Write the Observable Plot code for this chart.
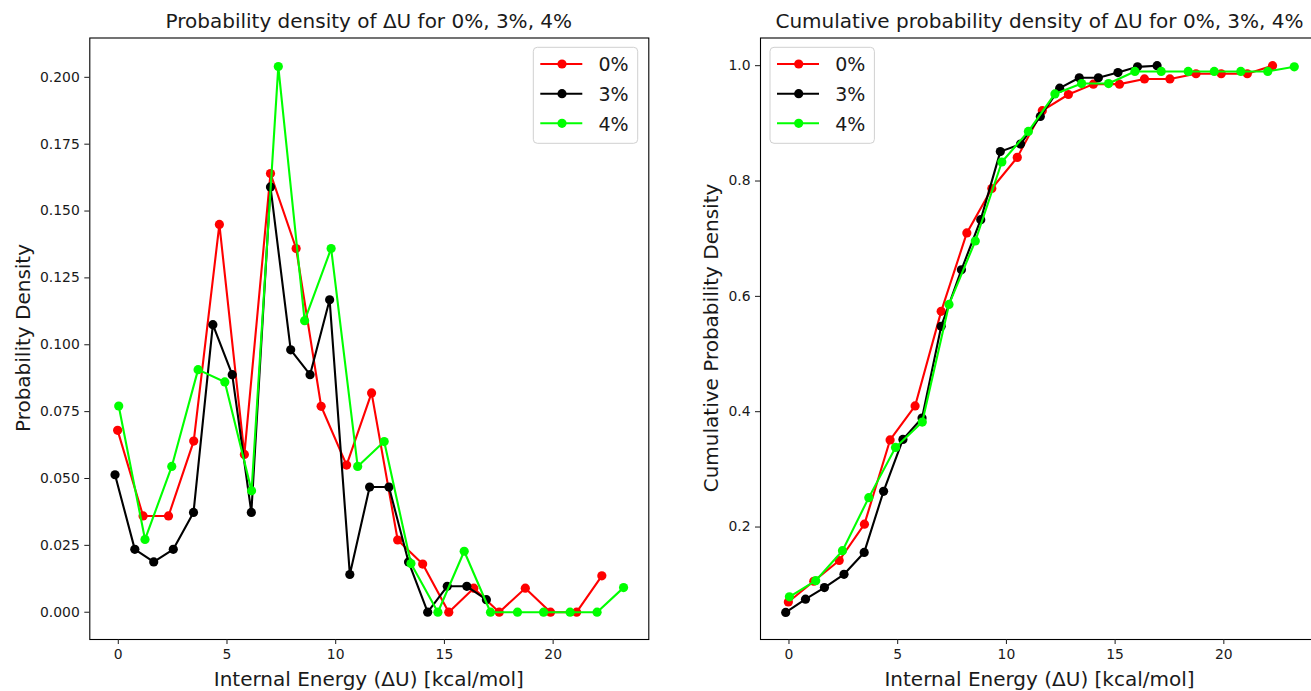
<!DOCTYPE html>
<html>
<head>
<meta charset="utf-8">
<script src="https://cdn.jsdelivr.net/npm/d3@7"></script>
<script src="https://cdn.jsdelivr.net/npm/@observablehq/plot@0.6"></script>
<style>
  html, body { margin: 0; padding: 0; background: #fff; overflow: hidden; width: 1311px; height: 691px; }
  #wrap { position: relative; width: 1311px; height: 691px; overflow: hidden; }
</style>
</head>
<body>
<div id="wrap"></div>
<script>
// ---- data ----
const seriesNames = ["0%", "3%", "4%"];
const seriesColors = ["#ff0000", "#000000", "#00ff00"];

const xRed = [-0.03, 1.14, 2.31, 3.47, 4.65, 5.80, 7.00, 8.18, 9.33, 10.50, 11.65, 12.85, 14.00, 15.20, 16.35, 17.52, 18.72, 19.88, 21.08, 22.24];
const densRed = [0.068, 0.036, 0.036, 0.064, 0.145, 0.059, 0.164, 0.136, 0.077, 0.055, 0.082, 0.027, 0.018, 0.000, 0.009, 0.000, 0.009, 0.000, 0.000, 0.0136];
const cumRed = [0.070, 0.106, 0.142, 0.205, 0.351, 0.410, 0.574, 0.710, 0.787, 0.841, 0.922, 0.950, 0.968, 0.968, 0.977, 0.977, 0.986, 0.986, 0.986, 1.000];

const xBlack = [-0.15, 0.76, 1.63, 2.53, 3.46, 4.35, 5.24, 6.12, 7.00, 7.93, 8.82, 9.72, 10.65, 11.56, 12.45, 13.35, 14.23, 15.13, 16.03, 16.93];
const densBlack = [0.0514, 0.0235, 0.0188, 0.0235, 0.0373, 0.1075, 0.0888, 0.0373, 0.159, 0.0981, 0.0888, 0.1168, 0.0141, 0.0468, 0.0468, 0.0188, 0.000, 0.0097, 0.0097, 0.0047];
const cumBlack = [0.052, 0.075, 0.095, 0.118, 0.156, 0.262, 0.352, 0.389, 0.548, 0.646, 0.733, 0.851, 0.864, 0.912, 0.961, 0.979, 0.979, 0.988, 0.998, 1.000];

const xGreen = [0.02, 1.23, 2.46, 3.67, 4.90, 6.13, 7.36, 8.57, 9.79, 11.01, 12.23, 13.46, 14.70, 15.91, 17.12, 18.36, 19.56, 20.78, 22.02, 23.24];
const densGreen = [0.0771, 0.0272, 0.0545, 0.0907, 0.0861, 0.0454, 0.204, 0.109, 0.136, 0.0545, 0.0638, 0.0182, 0.000, 0.0228, 0.000, 0.000, 0.000, 0.000, 0.000, 0.0092];
const cumGreen = [0.079, 0.107, 0.159, 0.251, 0.338, 0.382, 0.586, 0.696, 0.833, 0.886, 0.951, 0.969, 0.969, 0.990, 0.990, 0.990, 0.990, 0.990, 0.990, 0.998];

const xTicks = [0, 5, 10, 15, 20];
const yTicksDensity = [0, 0.025, 0.05, 0.075, 0.1, 0.125, 0.15, 0.175, 0.2];
const yTicksCumulative = [0.2, 0.4, 0.6, 0.8, 1.0];

const titleLeft = "Probability density of ΔU for 0%, 3%, 4%";
const titleRight = "Cumulative probability density of ΔU for 0%, 3%, 4%";
const xLabel = "Internal Energy (ΔU) [kcal/mol]";
const yLabelLeft = "Probability Density";
const yLabelRight = "Cumulative Probability Density";

// ---- build table ----
const xs = [xRed, xBlack, xGreen];
const dens = [densRed, densBlack, densGreen];
const cums = [cumRed, cumBlack, cumGreen];
const rows = [];
seriesNames.forEach((s, i) => {
  xs[i].forEach((x, j) => rows.push({series: s, x, density: dens[i][j], cumulative: cums[i][j]}));
});

const FONT = "DejaVu Sans, sans-serif";
const R = 4.6;
const wrap = document.getElementById("wrap");

function makePanel({left, marginLeft, marginRight, yKey, yDomain, yTicks, yFormat}) {
  const marks = [];
  seriesNames.forEach((s, i) => {
    const d = rows.filter(r => r.series === s);
    marks.push(Plot.line(d, {x: "x", y: yKey, stroke: seriesColors[i], strokeWidth: 2.1}));
    marks.push(Plot.dot(d, {x: "x", y: yKey, fill: seriesColors[i], r: R, stroke: "none"}));
  });
  marks.push(Plot.frame({stroke: "#000", strokeWidth: 1.1}));
  marks.push(Plot.axisX({ticks: xTicks, tickSize: 5, tickPadding: 5, label: null, tickFormat: d3.format("d")}));
  marks.push(Plot.axisY({ticks: yTicks, tickSize: 5, tickPadding: 5, label: null, tickFormat: d3.format(yFormat)}));
  const svg = Plot.plot({
    width: 660,
    height: 691,
    marginTop: 37.5,
    marginBottom: 52,
    marginLeft,
    marginRight,
    x: {domain: [-1.31, 24.4], label: null},
    y: {domain: yDomain, label: null},
    style: {fontFamily: FONT, fontSize: "13.9px", color: "#1a1a1a", background: "transparent", overflow: "visible"},
    marks
  });
  svg.style.position = "absolute";
  svg.style.left = left + "px";
  svg.style.top = "0px";
  wrap.appendChild(svg);
}

makePanel({left: 0, marginLeft: 89.3, marginRight: 660 - 648.3, yKey: "density",
  yDomain: [-0.0102, 0.2147], yTicks: yTicksDensity, yFormat: ".3f"});
makePanel({left: 680, marginLeft: 80, marginRight: 660 - 80 - 559, yKey: "cumulative",
  yDomain: [0.005, 1.048], yTicks: yTicksCumulative, yFormat: ".1f"});

// ---- overlay: titles, axis labels, legends ----
const ov = d3.select(wrap).append("svg")
  .attr("width", 1340).attr("height", 691)
  .style("position", "absolute").style("left", "0px").style("top", "0px")
  .style("font-family", FONT).style("overflow", "visible");

const panels = [
  {cx: (89.3 + 648.3) / 2, title: titleLeft, ylab: yLabelLeft, ylabX: 29.5, legX: 533.3},
  {cx: (760 + 1319) / 2, title: titleRight, ylab: yLabelRight, ylabX: 718, legX: 770}
];
panels.forEach(p => {
  ov.append("text").attr("x", p.cx).attr("y", 28.3).attr("text-anchor", "middle")
    .attr("font-size", 20).attr("fill", "#1a1a1a").text(p.title);
  ov.append("text").attr("x", p.cx).attr("y", 686).attr("text-anchor", "middle")
    .attr("font-size", 20).attr("fill", "#1a1a1a").text(xLabel);
  ov.append("text").attr("transform", `translate(${p.ylabX},338) rotate(-90)`).attr("text-anchor", "middle")
    .attr("font-size", 20).attr("fill", "#1a1a1a").text(p.ylab);
  // legend
  const g = ov.append("g").attr("transform", `translate(${p.legX},47.3)`);
  g.append("rect").attr("x", 0).attr("y", 0).attr("width", 104.4).attr("height", 96).attr("rx", 4)
    .attr("fill", "#fff").attr("fill-opacity", 0.8).attr("stroke", "#d0d0d0").attr("stroke-width", 1);
  const rowY = [16.7, 46.4, 76];
  seriesNames.forEach((s, i) => {
    const y = rowY[i];
    g.append("line").attr("x1", 7).attr("x2", 49).attr("y1", y).attr("y2", y)
      .attr("stroke", seriesColors[i]).attr("stroke-width", 2.1);
    g.append("circle").attr("cx", 28.7).attr("cy", y).attr("r", R).attr("fill", seriesColors[i]);
    g.append("text").attr("x", 65.2).attr("y", y + 7.3).attr("font-size", 19).attr("fill", "#1a1a1a").text(s);
  });
});
</script>
</body>
</html>
